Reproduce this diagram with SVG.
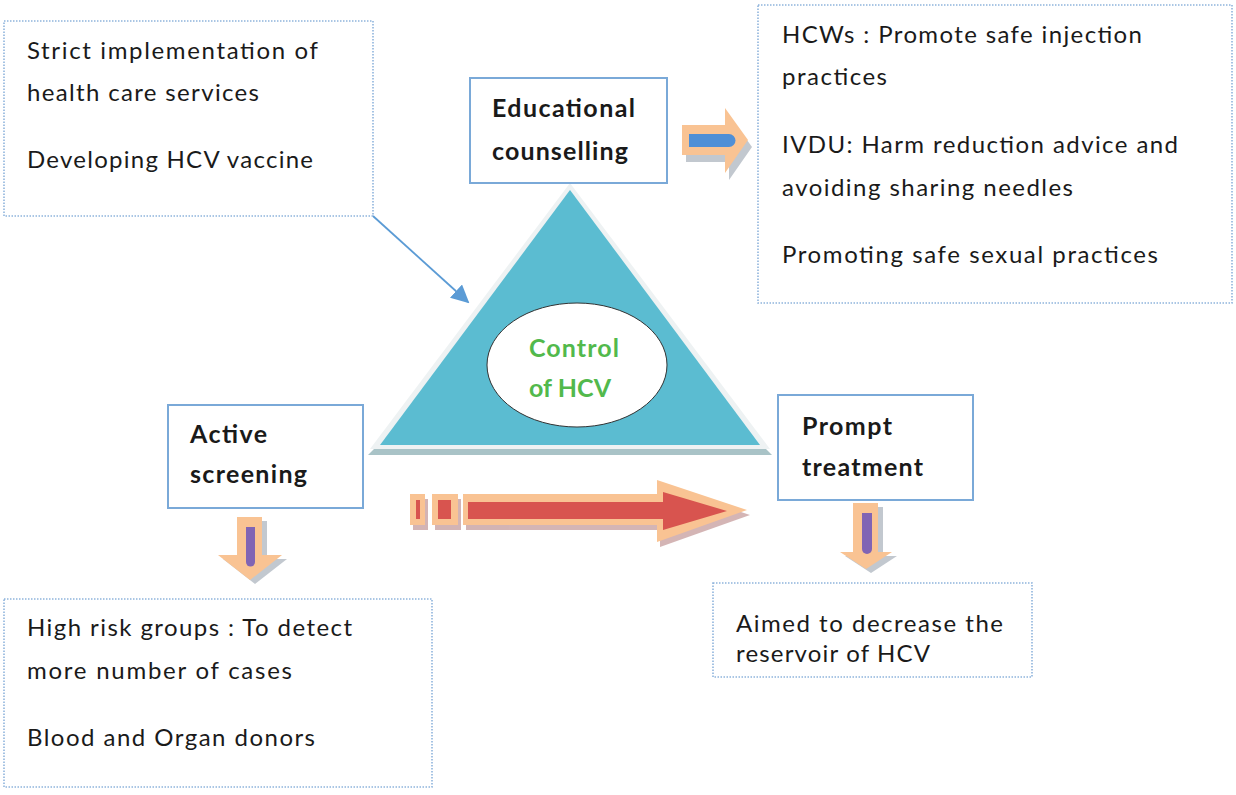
<svg xmlns="http://www.w3.org/2000/svg" width="1236" height="795" viewBox="0 0 1236 795">
<defs>
<style>
.dot{fill:#fff;stroke:#8fb4dc;stroke-width:1.6;stroke-dasharray:1.5 1.5}
.sol{fill:#fff;stroke:#7aa9d8;stroke-width:2}
.t{font-family:Lato,"Liberation Sans",sans-serif;font-size:24px;fill:#1a1a1a}
.b{font-family:Lato,"Liberation Sans",sans-serif;font-size:25px;font-weight:bold;fill:#1a1a1a}
.g{font-family:Lato,"Liberation Sans",sans-serif;font-size:25px;font-weight:bold;fill:#52b94c}
.or{fill:#f9c393}
.sh{fill:#a8b0bb;opacity:0.7}
.shr{fill:#c9a2a2;opacity:0.8}
</style>
<marker id="ah" viewBox="0 0 10 10" refX="9" refY="5" markerWidth="10" markerHeight="10" orient="auto" markerUnits="strokeWidth">
<path d="M0,0 L10,5 L0,10 z" fill="#5b9bd5"/>
</marker>
</defs>

<g id="triangle">
<polygon points="368,455 772,455 766,449 374,449" fill="#a9c3c7"/>
<polygon points="570,183 770,449 370,449" fill="#eef2f3"/>
<polygon points="570,190 760,445 380,445" fill="#5bbcd1"/>
</g>

<g id="control">
<ellipse cx="577" cy="365" rx="90" ry="62" fill="#fff" stroke="#333" stroke-width="1"/>
<text class="g" x="529" y="357" textLength="90" lengthAdjust="spacing">Control</text>
<text class="g" x="529" y="397" textLength="82" lengthAdjust="spacing">of HCV</text>
</g>

<g id="connectors">
<line x1="373" y1="216" x2="468" y2="302" stroke="#5b9bd5" stroke-width="1.8" marker-end="url(#ah)"/>
<g id="arrow-edu">
<path class="sh" d="M686,132 H729 V115 L752,147 L729,180 V162 H686 Z"/>
<path class="or" d="M682,125 H725 V108 L748,140 L725,173 V155 H682 Z"/>
<path d="M689,134 H729 A6.5,6.5 0 0 1 729,147 H689 Z" fill="#4f8fd6"/>
</g>
<g id="arrow-main">
<g class="shr" transform="translate(3,5)">
<rect x="410" y="494" width="15" height="31"/>
<rect x="432" y="494" width="26" height="31"/>
<path d="M463,494 H657 V480 L747,510 L657,542 V525 H463 Z"/>
</g>
<rect class="or" x="410" y="494" width="15" height="31"/>
<rect class="or" x="432" y="494" width="26" height="31"/>
<path class="or" d="M463,494 H657 V480 L747,510 L657,542 V525 H463 Z"/>
<rect x="416" y="500" width="4" height="19" fill="#d8544f"/>
<rect x="438" y="500" width="13" height="19" fill="#d8544f"/>
<path d="M468,502 H663 V492 L727,511 L663,530 V519 H468 Z" fill="#d8544f"/>
</g>
<g id="arrow-active">
<path class="sh" d="M242,521 H267 V559 H287 L255,584 L223,559 H242 Z"/>
<path class="or" d="M237,517 H262 V555 H282 L250,580 L218,555 H237 Z"/>
<path d="M246,527 H255 V562 A4.5,4.5 0 0 1 246,562 Z" fill="#8064b4"/>
</g>
<g id="arrow-prompt">
<path class="sh" d="M858,507 H883 V556 H897 L871,573 L845,556 H858 Z"/>
<path class="or" d="M853,503 H878 V552 H892 L866,569 L840,552 H853 Z"/>
<path d="M862,513 H872 V549 A5,5 0 0 1 862,549 Z" fill="#8064b4"/>
</g>
</g>

<g id="box-strict">
<rect class="dot" x="4" y="21" width="369" height="195"/>
<text class="t" x="27" y="59" textLength="291" lengthAdjust="spacing">Strict implementation of</text>
<text class="t" x="27" y="101" textLength="232" lengthAdjust="spacing">health care services</text>
<text class="t" x="27" y="168" textLength="286" lengthAdjust="spacing">Developing HCV vaccine</text>
</g>

<g id="box-edu">
<rect class="sol" x="470" y="78" width="197" height="105"/>
<text class="b" x="492" y="117" textLength="143" lengthAdjust="spacing">Educational</text>
<text class="b" x="492" y="160" textLength="136" lengthAdjust="spacing">counselling</text>
</g>

<g id="box-hcw">
<rect class="dot" x="758" y="5" width="474" height="298"/>
<text class="t" x="782" y="43" textLength="360" lengthAdjust="spacing">HCWs : Promote safe injection</text>
<text class="t" x="782" y="85" textLength="105" lengthAdjust="spacing">practices</text>
<text class="t" x="782" y="153" textLength="396" lengthAdjust="spacing">IVDU: Harm reduction advice and</text>
<text class="t" x="782" y="196" textLength="291" lengthAdjust="spacing">avoiding sharing needles</text>
<text class="t" x="782" y="263" textLength="376" lengthAdjust="spacing">Promoting safe sexual practices</text>
</g>

<g id="box-active">
<rect class="sol" x="168" y="405" width="195" height="103"/>
<text class="b" x="190" y="443" textLength="77" lengthAdjust="spacing">Active</text>
<text class="b" x="190" y="483" textLength="117" lengthAdjust="spacing">screening</text>
</g>

<g id="box-prompt">
<rect class="sol" x="778" y="395" width="195" height="105"/>
<text class="b" x="802" y="435" textLength="90" lengthAdjust="spacing">Prompt</text>
<text class="b" x="802" y="476" textLength="121" lengthAdjust="spacing">treatment</text>
</g>

<g id="box-highrisk">
<rect class="dot" x="4" y="599" width="428" height="188"/>
<text class="t" x="27" y="636" textLength="325" lengthAdjust="spacing">High risk groups : To detect</text>
<text class="t" x="27" y="679" textLength="265" lengthAdjust="spacing">more number of cases</text>
<text class="t" x="27" y="746" textLength="288" lengthAdjust="spacing">Blood and Organ donors</text>
</g>

<g id="box-aimed">
<rect class="dot" x="713" y="583" width="319" height="94"/>
<text class="t" x="736" y="632" textLength="267" lengthAdjust="spacing">Aimed to decrease the</text>
<text class="t" x="736" y="662" textLength="194" lengthAdjust="spacing">reservoir of HCV</text>
</g>
</svg>
